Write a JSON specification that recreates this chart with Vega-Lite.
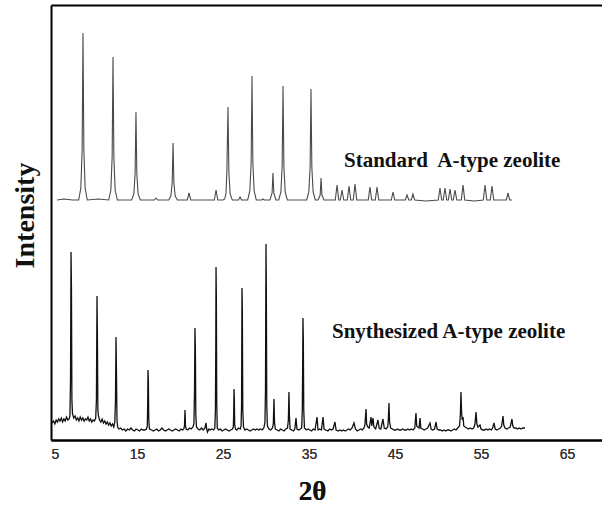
{
  "$schema": "https://vega.github.io/schema/vega-lite/v6.json",
  "width": 551,
  "height": 435,
  "autosize": "none",
  "padding": {"left": 51, "top": 5, "right": 0, "bottom": 66},
  "background": "white",
  "config": {"view": {"stroke": null}},
  "datasets": {
    "standard": [
      {"x":5.7,"y":240},{"x":6.5,"y":241},{"x":7.5,"y":240},
      {"x":8.22,"y":240},{"x":8.47,"y":252},{"x":8.62,"y":290},{"x":8.72,"y":407},{"x":8.82,"y":290},{"x":8.97,"y":252},{"x":9.22,"y":240},
      {"x":10.5,"y":241},
      {"x":11.71,"y":240},{"x":11.96,"y":250},{"x":12.11,"y":283},{"x":12.21,"y":383},{"x":12.31,"y":283},{"x":12.46,"y":250},{"x":12.71,"y":240},
      {"x":14.38,"y":240},{"x":14.63,"y":246},{"x":14.78,"y":266},{"x":14.88,"y":328},{"x":14.98,"y":266},{"x":15.13,"y":246},{"x":15.38,"y":240},
      {"x":16.2,"y":240},
      {"x":17.0,"y":240},{"x":17.21,"y":242},{"x":17.4,"y":240},
      {"x":18.69,"y":240},{"x":18.94,"y":244},{"x":19.09,"y":257},{"x":19.19,"y":297},{"x":19.29,"y":257},{"x":19.44,"y":244},{"x":19.69,"y":240},
      {"x":20.85,"y":240},{"x":21.05,"y":247},{"x":21.25,"y":240},
      {"x":22.5,"y":240},
      {"x":23.99,"y":240},{"x":24.19,"y":250},{"x":24.39,"y":240},
      {"x":25.0,"y":240},{"x":25.2,"y":241},{"x":25.35,"y":247},{"x":25.45,"y":268},{"x":25.58,"y":333},{"x":25.68,"y":268},{"x":25.83,"y":246},{"x":26.08,"y":240},
      {"x":26.8,"y":240},{"x":26.98,"y":243},{"x":27.15,"y":240},
      {"x":27.87,"y":240},{"x":28.12,"y":249},{"x":28.27,"y":277},{"x":28.37,"y":364},{"x":28.47,"y":277},{"x":28.62,"y":249},{"x":28.87,"y":240},
      {"x":29.5,"y":240},{"x":29.65,"y":241},{"x":29.8,"y":240},
      {"x":30.46,"y":240},{"x":30.71,"y":247},{"x":30.81,"y":267},{"x":30.91,"y":247},{"x":31.16,"y":240},
      {"x":31.48,"y":240},{"x":31.73,"y":248},{"x":31.88,"y":274},{"x":31.98,"y":354},{"x":32.08,"y":274},{"x":32.23,"y":248},{"x":32.48,"y":240},
      {"x":33.8,"y":240},
      {"x":34.73,"y":240},{"x":34.98,"y":248},{"x":35.13,"y":273},{"x":35.23,"y":351},{"x":35.33,"y":273},{"x":35.48,"y":248},{"x":35.73,"y":240},
      {"x":36.05,"y":240},{"x":36.3,"y":245},{"x":36.4,"y":262},{"x":36.5,"y":245},{"x":36.75,"y":240},
      {"x":38.06,"y":240},{"x":38.26,"y":255},{"x":38.46,"y":240},
      {"x":38.64,"y":240},{"x":38.84,"y":250},{"x":39.04,"y":240},
      {"x":39.45,"y":240},{"x":39.65,"y":254},{"x":39.85,"y":240},
      {"x":40.15,"y":240},{"x":40.35,"y":256},{"x":40.55,"y":240},
      {"x":41.2,"y":240},
      {"x":41.89,"y":240},{"x":42.09,"y":253},{"x":42.29,"y":240},
      {"x":42.71,"y":240},{"x":42.91,"y":253},{"x":43.11,"y":240},
      {"x":44.57,"y":240},{"x":44.77,"y":248},{"x":44.97,"y":240},
      {"x":46.2,"y":240},{"x":46.4,"y":245},{"x":46.6,"y":240},
      {"x":46.89,"y":240},{"x":47.09,"y":246},{"x":47.29,"y":240},
      {"x":48.6,"y":239},
      {"x":50.03,"y":240},{"x":50.23,"y":252},{"x":50.43,"y":240},
      {"x":50.61,"y":240},{"x":50.81,"y":252},{"x":51.01,"y":240},
      {"x":51.2,"y":240},{"x":51.4,"y":251},{"x":51.6,"y":240},
      {"x":51.78,"y":240},{"x":51.98,"y":250},{"x":52.18,"y":240},
      {"x":52.71,"y":240},{"x":52.91,"y":255},{"x":53.11,"y":240},
      {"x":54.2,"y":239},
      {"x":55.27,"y":240},{"x":55.47,"y":255},{"x":55.67,"y":240},
      {"x":56.08,"y":240},{"x":56.28,"y":254},{"x":56.48,"y":240},
      {"x":57.2,"y":240},
      {"x":57.94,"y":240},{"x":58.14,"y":247},{"x":58.34,"y":240},
      {"x":58.6,"y":240}
    ],
    "synthesized": [
      {"x":5.12,"y":17},{"x":5.3,"y":19},{"x":5.45,"y":16},{"x":5.6,"y":20},{"x":5.75,"y":18},{"x":5.9,"y":21},{"x":6.05,"y":19},{"x":6.2,"y":22},{"x":6.35,"y":18},{"x":6.5,"y":21},{"x":6.65,"y":19},{"x":6.8,"y":23},{"x":6.95,"y":20},{"x":7.1,"y":21},
      {"x":7.2,"y":24},{"x":7.27,"y":60},{"x":7.33,"y":188},{"x":7.38,"y":150},{"x":7.43,"y":40},{"x":7.5,"y":26},
      {"x":7.65,"y":22},{"x":7.8,"y":24},{"x":7.95,"y":20},{"x":8.1,"y":22},{"x":8.25,"y":19},{"x":8.4,"y":23},{"x":8.55,"y":20},{"x":8.7,"y":22},{"x":8.85,"y":19},{"x":9.0,"y":21},{"x":9.15,"y":20},{"x":9.3,"y":23},{"x":9.45,"y":19},{"x":9.6,"y":21},{"x":9.75,"y":18},{"x":9.9,"y":20},{"x":10.05,"y":19},{"x":10.2,"y":22},
      {"x":10.28,"y":40},{"x":10.35,"y":144},{"x":10.4,"y":100},{"x":10.45,"y":30},{"x":10.52,"y":24},
      {"x":10.65,"y":20},{"x":10.8,"y":18},{"x":10.95,"y":21},{"x":11.1,"y":17},{"x":11.25,"y":19},{"x":11.4,"y":16},{"x":11.55,"y":18},{"x":11.7,"y":15},{"x":11.85,"y":17},{"x":12.0,"y":14},{"x":12.15,"y":16},{"x":12.3,"y":13},{"x":12.42,"y":18},
      {"x":12.5,"y":40},{"x":12.56,"y":103},{"x":12.61,"y":70},{"x":12.67,"y":20},{"x":12.75,"y":13},
      {"x":12.9,"y":11},{"x":13.1,"y":12},{"x":13.3,"y":10},{"x":13.5,"y":11},{"x":13.7,"y":9},{"x":13.9,"y":11},{"x":14.1,"y":10},{"x":14.3,"y":12},{"x":14.5,"y":10},{"x":14.7,"y":9},{"x":14.9,"y":11},{"x":15.1,"y":10},{"x":15.3,"y":9},{"x":15.5,"y":11},{"x":15.7,"y":10},{"x":15.9,"y":10},{"x":16.1,"y":11},
      {"x":16.2,"y":14},{"x":16.24,"y":35},{"x":16.28,"y":70},{"x":16.32,"y":60},{"x":16.37,"y":20},{"x":16.45,"y":11},
      {"x":16.7,"y":10},{"x":16.9,"y":9},{"x":17.1,"y":10},{"x":17.3,"y":11},{"x":17.5,"y":9},{"x":17.7,"y":10},{"x":17.9,"y":12},{"x":18.1,"y":10},{"x":18.3,"y":9},{"x":18.5,"y":10},{"x":18.7,"y":11},{"x":18.9,"y":10},{"x":19.1,"y":9},{"x":19.3,"y":10},{"x":19.5,"y":11},{"x":19.7,"y":10},{"x":19.9,"y":9},{"x":20.1,"y":11},{"x":20.3,"y":10},{"x":20.45,"y":11},
      {"x":20.52,"y":14},{"x":20.58,"y":30},{"x":20.64,"y":14},{"x":20.72,"y":11},
      {"x":20.9,"y":10},{"x":21.1,"y":12},{"x":21.3,"y":11},{"x":21.5,"y":13},{"x":21.62,"y":16},
      {"x":21.69,"y":50},{"x":21.74,"y":112},{"x":21.79,"y":90},{"x":21.84,"y":25},{"x":21.92,"y":13},
      {"x":22.1,"y":11},{"x":22.3,"y":10},{"x":22.5,"y":12},{"x":22.7,"y":10},{"x":22.9,"y":12},
      {"x":23.02,"y":17},{"x":23.1,"y":11},{"x":23.2,"y":8},{"x":23.35,"y":11},{"x":23.5,"y":10},{"x":23.7,"y":11},{"x":23.9,"y":10},{"x":24.05,"y":12},
      {"x":24.12,"y":30},{"x":24.16,"y":90},{"x":24.19,"y":173},{"x":24.23,"y":140},{"x":24.27,"y":40},{"x":24.33,"y":12},
      {"x":24.5,"y":10},{"x":24.7,"y":11},{"x":24.9,"y":9},{"x":25.1,"y":10},{"x":25.3,"y":11},{"x":25.5,"y":10},{"x":25.7,"y":9},{"x":25.9,"y":10},{"x":26.1,"y":11},{"x":26.2,"y":13},
      {"x":26.24,"y":25},{"x":26.28,"y":51},{"x":26.32,"y":40},{"x":26.36,"y":15},{"x":26.45,"y":11},
      {"x":26.6,"y":10},{"x":26.8,"y":12},{"x":27.0,"y":11},{"x":27.1,"y":14},
      {"x":27.16,"y":35},{"x":27.21,"y":152},{"x":27.25,"y":130},{"x":27.3,"y":30},{"x":27.38,"y":13},
      {"x":27.55,"y":10},{"x":27.75,"y":11},{"x":27.95,"y":10},{"x":28.15,"y":9},{"x":28.35,"y":10},{"x":28.55,"y":11},{"x":28.75,"y":10},{"x":28.95,"y":11},{"x":29.15,"y":10},{"x":29.35,"y":11},{"x":29.55,"y":10},{"x":29.75,"y":12},{"x":29.88,"y":18},
      {"x":29.94,"y":50},{"x":29.97,"y":120},{"x":30.0,"y":196},{"x":30.04,"y":150},{"x":30.09,"y":35},{"x":30.16,"y":14},
      {"x":30.35,"y":11},{"x":30.55,"y":10},{"x":30.75,"y":12},{"x":30.85,"y":16},
      {"x":30.93,"y":41},{"x":30.99,"y":18},{"x":31.08,"y":11},
      {"x":31.3,"y":10},{"x":31.5,"y":9},{"x":31.7,"y":11},{"x":31.9,"y":10},{"x":32.1,"y":9},{"x":32.3,"y":11},{"x":32.5,"y":12},{"x":32.6,"y":20},
      {"x":32.67,"y":48},{"x":32.72,"y":25},{"x":32.8,"y":11},
      {"x":33.0,"y":10},{"x":33.2,"y":9},{"x":33.35,"y":11},{"x":33.49,"y":22},{"x":33.6,"y":11},{"x":33.8,"y":10},{"x":34.0,"y":11},{"x":34.15,"y":12},{"x":34.22,"y":30},
      {"x":34.26,"y":70},{"x":34.3,"y":122},{"x":34.34,"y":100},{"x":34.39,"y":30},{"x":34.47,"y":12},
      {"x":34.7,"y":10},{"x":34.9,"y":11},{"x":35.1,"y":10},{"x":35.3,"y":9},{"x":35.5,"y":11},{"x":35.7,"y":10},{"x":35.93,"y":23},{"x":36.05,"y":10},{"x":36.25,"y":11},{"x":36.45,"y":10},{"x":36.63,"y":23},{"x":36.75,"y":11},{"x":36.95,"y":10},{"x":37.2,"y":9},{"x":37.4,"y":11},{"x":37.6,"y":10},{"x":37.8,"y":11},{"x":38.02,"y":18},{"x":38.15,"y":10},{"x":38.4,"y":9},{"x":38.6,"y":10},{"x":38.8,"y":9},{"x":39.0,"y":10},{"x":39.2,"y":9},{"x":39.4,"y":10},{"x":39.6,"y":11},{"x":39.8,"y":10},{"x":40.0,"y":12},{"x":40.23,"y":17},{"x":40.4,"y":11},{"x":40.6,"y":9},{"x":40.8,"y":10},{"x":41.0,"y":11},{"x":41.2,"y":10},{"x":41.4,"y":12},{"x":41.5,"y":15},
      {"x":41.63,"y":31},{"x":41.7,"y":16},{"x":41.85,"y":13},{"x":42.0,"y":12},{"x":42.21,"y":23},{"x":42.3,"y":14},{"x":42.44,"y":22},{"x":42.55,"y":13},{"x":42.75,"y":11},{"x":43.02,"y":20},{"x":43.15,"y":12},{"x":43.35,"y":11},{"x":43.6,"y":21},{"x":43.75,"y":12},{"x":43.95,"y":11},{"x":44.15,"y":13},{"x":44.22,"y":20},{"x":44.3,"y":37},{"x":44.37,"y":18},{"x":44.5,"y":12},
      {"x":44.7,"y":11},{"x":44.9,"y":10},{"x":45.1,"y":10},{"x":45.3,"y":11},{"x":45.5,"y":10},{"x":45.7,"y":10},{"x":45.9,"y":11},{"x":46.1,"y":10},{"x":46.3,"y":10},{"x":46.5,"y":11},{"x":46.7,"y":10},{"x":46.9,"y":11},{"x":47.1,"y":10},{"x":47.3,"y":12},
      {"x":47.44,"y":27},{"x":47.52,"y":14},{"x":47.65,"y":13},{"x":47.8,"y":12},{"x":47.91,"y":22},{"x":48.0,"y":12},{"x":48.2,"y":11},{"x":48.4,"y":10},{"x":48.6,"y":11},{"x":48.8,"y":12},{"x":49.07,"y":17},{"x":49.2,"y":11},{"x":49.4,"y":10},{"x":49.6,"y":11},{"x":49.77,"y":18},{"x":49.9,"y":11},
      {"x":50.1,"y":10},{"x":50.3,"y":10},{"x":50.5,"y":9},{"x":50.7,"y":10},{"x":50.9,"y":9},{"x":51.1,"y":10},{"x":51.3,"y":10},{"x":51.5,"y":9},{"x":51.7,"y":10},{"x":51.9,"y":11},{"x":52.1,"y":10},{"x":52.3,"y":12},{"x":52.5,"y":14},
      {"x":52.6,"y":25},{"x":52.67,"y":48},{"x":52.74,"y":28},{"x":52.82,"y":20},{"x":52.91,"y":23},{"x":53.0,"y":14},
      {"x":53.15,"y":13},{"x":53.35,"y":12},{"x":53.55,"y":11},{"x":53.75,"y":12},{"x":53.95,"y":11},{"x":54.15,"y":12},{"x":54.3,"y":16},{"x":54.42,"y":28},{"x":54.52,"y":16},{"x":54.65,"y":13},{"x":54.88,"y":15},{"x":55.0,"y":11},
      {"x":55.2,"y":10},{"x":55.4,"y":10},{"x":55.6,"y":11},{"x":55.8,"y":10},{"x":56.0,"y":11},{"x":56.2,"y":10},{"x":56.35,"y":12},{"x":56.51,"y":17},{"x":56.65,"y":11},{"x":56.85,"y":10},{"x":57.05,"y":11},{"x":57.25,"y":12},{"x":57.4,"y":14},{"x":57.56,"y":24},{"x":57.65,"y":15},{"x":57.8,"y":12},{"x":58.0,"y":11},{"x":58.2,"y":12},{"x":58.4,"y":13},{"x":58.6,"y":21},{"x":58.7,"y":14},{"x":58.85,"y":12},{"x":59.05,"y":12},{"x":59.25,"y":11},{"x":59.45,"y":12},{"x":59.65,"y":11},{"x":59.85,"y":12},{"x":60.12,"y":12}
    ],
    "labels": [
      {"x": 39.07, "y": 273, "label": "Standard\u00a0 A-type zeolite"},
      {"x": 37.67, "y": 102, "label": "Snythesized A-type zeolite"}
    ]
  },
  "layer": [
    {
      "data": {"name": "synthesized"},
      "mark": {"type": "line", "color": "#111111", "strokeWidth": 1.3, "interpolate": "linear"},
      "encoding": {
        "x": {
          "field": "x", "type": "quantitative",
          "scale": {"domain": [5, 69.07], "nice": false, "zero": false},
          "axis": {
            "orient": "bottom", "values": [5, 15, 25, 35, 45, 55, 65], "ticks": false, "grid": false,
            "domainColor": "#000000", "domainWidth": 2,
            "labelFont": "Liberation Sans", "labelFontSize": 14, "labelColor": "#333333", "labelPadding": 7,
            "title": "2θ", "titleFont": "Liberation Serif", "titleFontSize": 27, "titleFontWeight": "bold", "titleColor": "#111111",
            "titleX": 261, "titleY": 59, "titleBaseline": "alphabetic", "titleAlign": "center"
          }
        },
        "y": {
          "field": "y", "type": "quantitative",
          "scale": {"domain": [0, 435], "nice": false, "zero": false},
          "axis": {
            "orient": "left", "labels": false, "ticks": false, "grid": false, "domain": true,
            "domainColor": "#000000", "domainWidth": 2,
            "title": "Intensity", "titleFont": "Liberation Serif", "titleFontSize": 28, "titleFontWeight": "bold", "titleColor": "#111111",
            "titleAngle": -90, "titleX": -18, "titleY": 210, "titleBaseline": "alphabetic", "titleAlign": "center"
          }
        }
      }
    },
    {
      "data": {"name": "standard"},
      "mark": {"type": "line", "color": "#4a4a4a", "strokeWidth": 1.1, "interpolate": "linear"},
      "encoding": {
        "x": {
          "field": "x", "type": "quantitative",
          "scale": {"domain": [5, 69.07], "nice": false, "zero": false},
          "axis": {"orient": "top", "labels": false, "ticks": false, "grid": false, "domainColor": "#000000", "domainWidth": 2, "title": null}
        },
        "y": {
          "field": "y", "type": "quantitative",
          "scale": {"domain": [0, 435], "nice": false, "zero": false},
          "axis": {
            "orient": "left", "labels": false, "ticks": false, "grid": false, "domain": true,
            "domainColor": "#000000", "domainWidth": 2,
            "title": "Intensity", "titleFont": "Liberation Serif", "titleFontSize": 28, "titleFontWeight": "bold", "titleColor": "#111111",
            "titleAngle": -90, "titleX": -18, "titleY": 210, "titleBaseline": "alphabetic", "titleAlign": "center"
          }
        }
      }
    },
    {
      "data": {"name": "labels"},
      "mark": {"type": "text", "align": "left", "baseline": "alphabetic", "font": "Liberation Serif", "fontSize": 21, "fontWeight": "bold", "color": "#111111"},
      "encoding": {
        "x": {
          "field": "x", "type": "quantitative",
          "scale": {"domain": [5, 69.07], "nice": false, "zero": false},
          "axis": {
            "orient": "bottom", "values": [5, 15, 25, 35, 45, 55, 65], "ticks": false, "grid": false,
            "domainColor": "#000000", "domainWidth": 2,
            "labelFont": "Liberation Sans", "labelFontSize": 14, "labelColor": "#333333", "labelPadding": 7,
            "title": "2θ", "titleFont": "Liberation Serif", "titleFontSize": 27, "titleFontWeight": "bold", "titleColor": "#111111",
            "titleX": 261, "titleY": 59, "titleBaseline": "alphabetic", "titleAlign": "center"
          }
        },
        "y": {
          "field": "y", "type": "quantitative",
          "scale": {"domain": [0, 435], "nice": false, "zero": false},
          "axis": {
            "orient": "left", "labels": false, "ticks": false, "grid": false, "domain": true,
            "domainColor": "#000000", "domainWidth": 2,
            "title": "Intensity", "titleFont": "Liberation Serif", "titleFontSize": 28, "titleFontWeight": "bold", "titleColor": "#111111",
            "titleAngle": -90, "titleX": -18, "titleY": 210, "titleBaseline": "alphabetic", "titleAlign": "center"
          }
        },
        "text": {"field": "label"}
      }
    }
  ]
}
